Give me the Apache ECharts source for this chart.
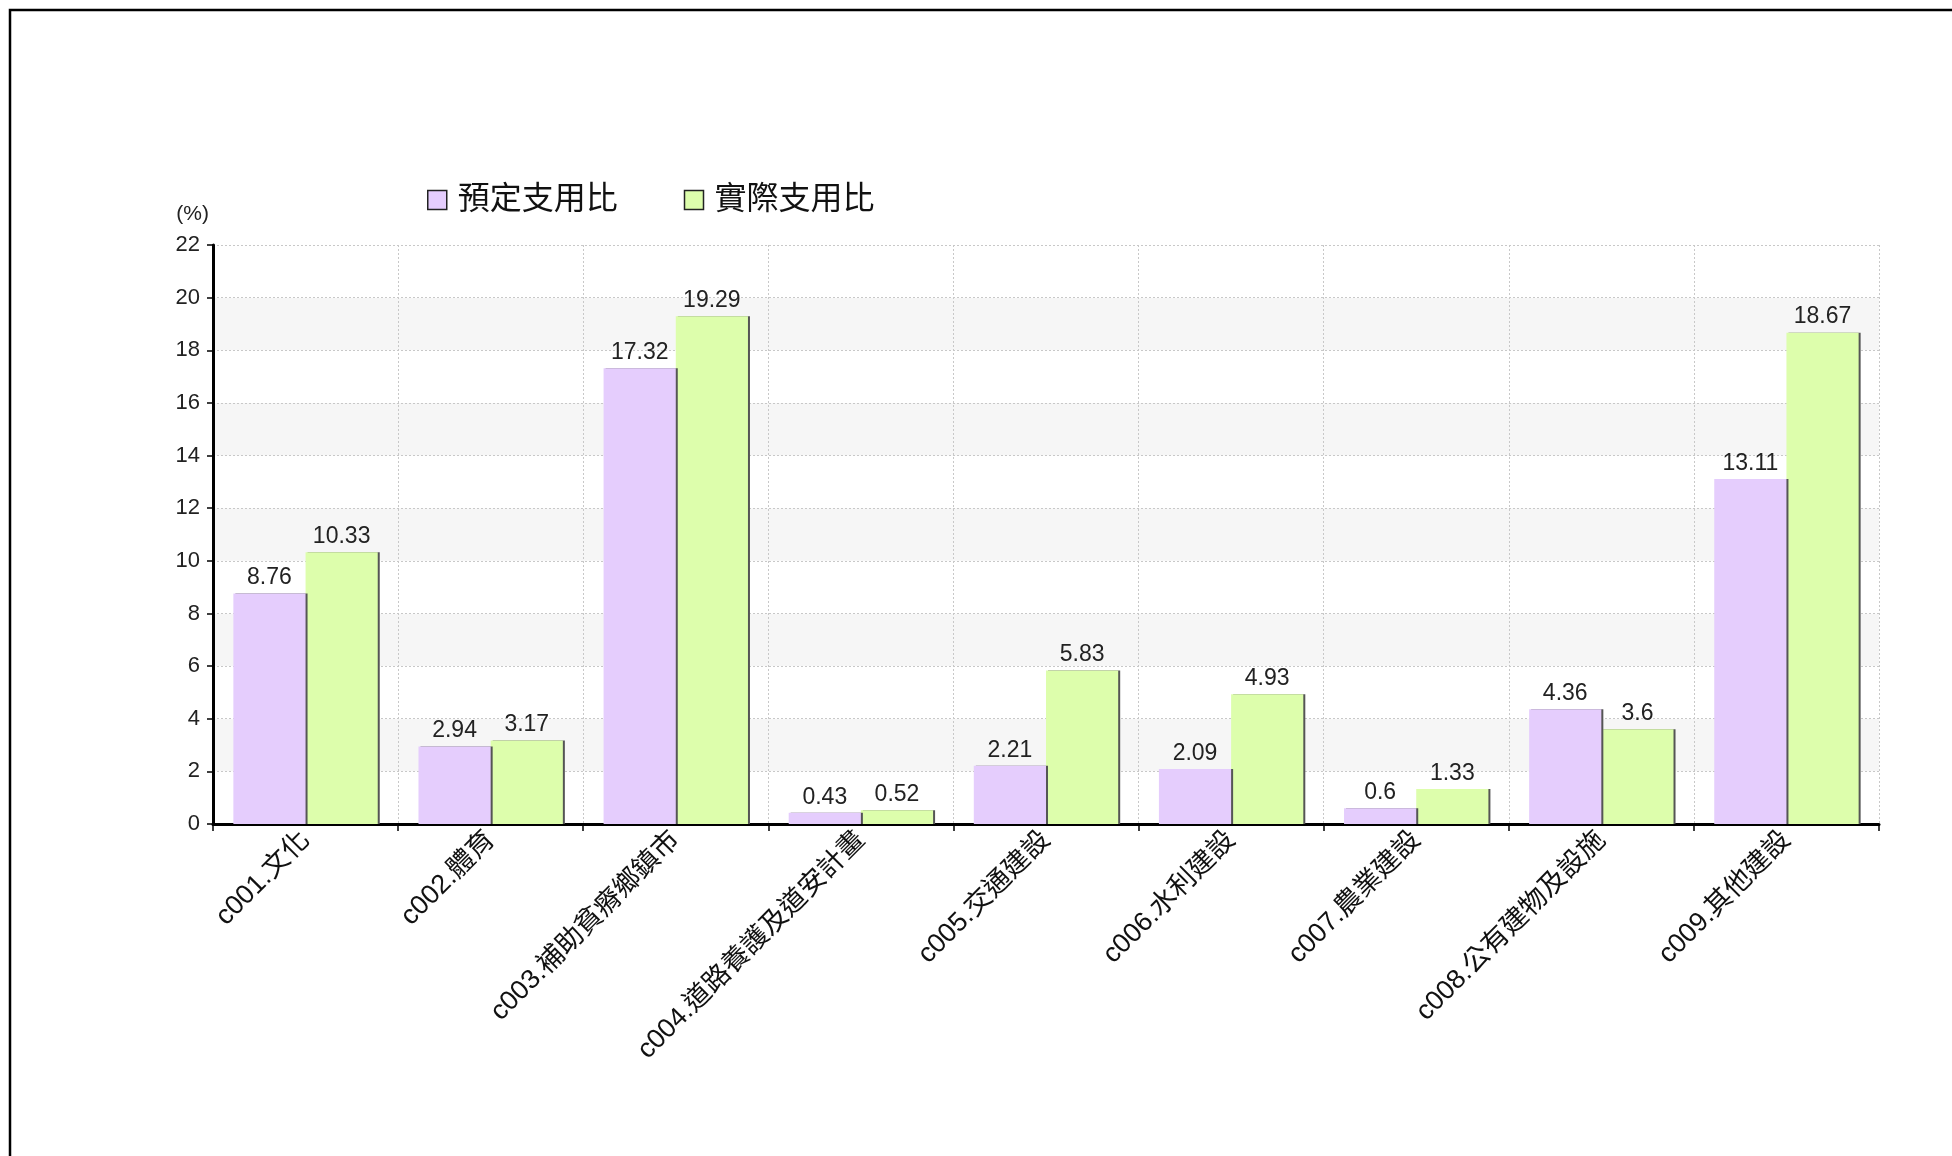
<!DOCTYPE html>
<html>
<head>
<meta charset="utf-8">
<style>
html,body{margin:0;padding:0;background:#fff;}
#chart{width:1952px;height:1156px;}
</style>
<script src="https://cdn.jsdelivr.net/npm/echarts@6/dist/echarts.min.js"></script>
</head>
<body>
<div id="chart"></div>
<script>
const categories = ['c001.文化','c002.體育','c003.補助貧瘠鄉鎮市','c004.道路養護及道安計畫','c005.交通建設','c006.水利建設','c007.農業建設','c008.公有建物及設施','c009.其他建設'];
const plannedName = '預定支用比';
const actualName = '實際支用比';
const planned = [8.76, 2.94, 17.32, 0.43, 2.21, 2.09, 0.6, 4.36, 13.11];
const actual = [10.33, 3.17, 19.29, 0.52, 5.83, 4.93, 1.33, 3.6, 18.67];
const yMin = 0, yMax = 22, yInterval = 2;
const yUnit = '(%)';

const latin = '"Liberation Sans", Arial, "Noto Sans CJK TC", sans-serif';
const cjk = '"Liberation Sans", "Noto Sans CJK TC", sans-serif';

const chart = echarts.init(document.getElementById('chart'));
const barLabel = {
  show: true, position: 'top', distance: 4,
  color: '#222', fontSize: 23, fontFamily: latin
};
chart.setOption({
  animation: false,
  backgroundColor: '#fff',
  graphic: [{
    type: 'rect', z: 100, silent: true,
    shape: {x: 10, y: 10, width: 2000, height: 1300},
    style: {fill: 'none', stroke: '#000', lineWidth: 2.5}
  }],
  legend: {
    left: 422, top: 179,
    itemWidth: 19, itemHeight: 19, itemGap: 66,
    icon: 'rect',
    itemStyle: {borderColor: '#222', borderWidth: 1.5},
    textStyle: {fontSize: 32, color: '#111', fontFamily: cjk, padding: [0, 0, 0, 6]},
    data: [plannedName, actualName]
  },
  grid: {left: 213, right: 73, top: 245, bottom: 332, containLabel: false},
  xAxis: {
    type: 'category',
    data: categories,
    boundaryGap: true,
    axisLine: {lineStyle: {color: '#000', width: 3}},
    axisTick: {show: true, length: 7, lineStyle: {color: '#000', width: 1.5}},
    axisLabel: {rotate: 45, margin: 12, fontSize: 27, color: '#111', fontFamily: cjk, interval: 0},
    splitLine: {show: true, lineStyle: {color: '#c8c8c8', type: [2, 2], width: 1}}
  },
  yAxis: {
    type: 'value',
    min: yMin, max: yMax, interval: yInterval,
    name: yUnit,
    nameLocation: 'end',
    nameGap: 20,
    nameTextStyle: {fontSize: 21, color: '#222', fontFamily: latin, align: 'right', padding: [0, 4, 0, 0]},
    axisLine: {show: true, lineStyle: {color: '#000', width: 3}},
    axisTick: {show: true, length: 6, lineStyle: {color: '#000', width: 1.5}},
    axisLabel: {fontSize: 22, color: '#222', fontFamily: latin, margin: 13},
    splitLine: {show: true, lineStyle: {color: '#c8c8c8', type: [2, 2], width: 1}},
    splitArea: {show: true, areaStyle: {color: ['#ffffff', '#f6f6f6']}}
  },
  series: [
    {
      name: plannedName, type: 'bar', data: planned,
      barWidth: '39%', barGap: '0%', z: 3,
      itemStyle: {color: '#E5CDFD', shadowColor: '#555', shadowOffsetX: 2, shadowBlur: 0},
      label: barLabel
    },
    {
      name: actualName, type: 'bar', data: actual,
      barWidth: '39%', barGap: '0%', z: 2,
      itemStyle: {color: '#DDFEAC', shadowColor: '#555', shadowOffsetX: 2, shadowBlur: 0},
      label: barLabel
    }
  ]
});
</script>
</body>
</html>
